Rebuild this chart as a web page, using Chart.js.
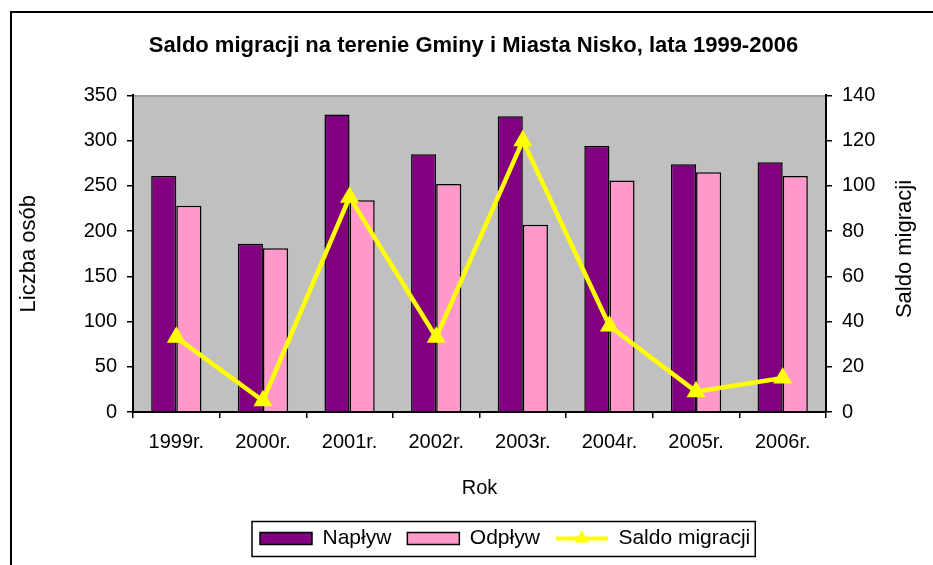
<!DOCTYPE html>
<html>
<head>
<meta charset="utf-8">
<script src="https://cdn.jsdelivr.net/npm/chart.js@4.4.1/dist/chart.umd.min.js"></script>
<style>
  html, body { margin: 0; padding: 0; background: #fff; }
  #wrap { width: 933px; height: 565px; }
</style>
</head>
<body>
<div id="wrap"><canvas id="c" width="933" height="565"></canvas></div>
<script>
/* Saldo migracji – Gmina i Miasto Nisko 1999-2006 */

const years = ["1999r.", "2000r.", "2001r.", "2002r.", "2003r.", "2004r.", "2005r.", "2006r."];
const naplyw = [261, 186, 329, 285, 327, 294, 274, 276];
const odplyw = [228, 181, 234, 252, 207, 256, 265, 261];
const saldo = [33, 5, 95, 33, 120, 38, 9, 15];

const leftMax = 350, leftStep = 50;
const rightMax = 140, rightStep = 20;

const FONT = "Arial, 'Liberation Sans', sans-serif";
Chart.defaults.font.family = FONT;
Chart.defaults.color = "#000";

// tło, ramki, legenda linii, tytuł prawej osi
const excelLook = {
  id: "excelLook",
  beforeDraw(chart) {
    const { ctx, chartArea: a } = chart;
    ctx.save();
    ctx.fillStyle = "#fff";
    ctx.fillRect(0, 0, chart.width, chart.height);
    ctx.fillStyle = "#c0c0c0";
    ctx.fillRect(a.left, a.top, a.right - a.left, a.bottom - a.top);
    ctx.strokeStyle = "#808080";
    ctx.lineWidth = 1;
    ctx.strokeRect(a.left + 0.5, a.top + 0.5, a.right - a.left - 1, a.bottom - a.top - 1);
    ctx.restore();
  },
  afterUpdate(chart) {
    // legenda przesunięta w prawo jak w Excelu
    const lg = chart.legend;
    const hb = lg.legendHitBoxes;
    if (!hb || !hb.length) return;
    const dx = 260 - hb[0].left;
    lg.left += dx; lg.right += dx;
    hb.forEach(h => { h.left += dx; });
  },
  afterDraw(chart) {
    const { ctx } = chart;
    ctx.save();
    // ramka całego wykresu
    ctx.strokeStyle = "#000";
    ctx.lineWidth = 2;
    ctx.strokeRect(11, 12, chart.width + 20, chart.height + 20);

    // ramka legendy
    const hb = chart.legend.legendHitBoxes;
    if (hb && hb.length) {
      const first = hb[0], last = hb[hb.length - 1];
      const cy = first.top + first.height / 2;
      ctx.lineWidth = 1.5;
      ctx.strokeRect(first.left - 8, cy - 17, last.left + last.width + 5 - (first.left - 8), 35);

      // symbol linii z trójkątem
      const lh = hb[2];
      const x0 = lh.left, x1 = lh.left + 52, ym = cy;
      ctx.strokeStyle = "#ffff00";
      ctx.lineWidth = 4;
      ctx.beginPath(); ctx.moveTo(x0, ym); ctx.lineTo(x1, ym); ctx.stroke();
      ctx.fillStyle = "#ffff00";
      const r = 8, xc = (x0 + x1) / 2;
      ctx.beginPath();
      ctx.moveTo(xc, ym - r);
      ctx.lineTo(xc + r * 0.866, ym + r * 0.5);
      ctx.lineTo(xc - r * 0.866, ym + r * 0.5);
      ctx.closePath(); ctx.fill();
    }

    // tytuł prawej osi (od dołu do góry)
    ctx.fillStyle = "#000";
    ctx.font = "22px " + FONT;
    ctx.textAlign = "center";
    ctx.textBaseline = "middle";
    ctx.translate(905, 249);
    ctx.rotate(-Math.PI / 2);
    ctx.fillText("Saldo migracji", 0, 0);
    ctx.restore();
  }
};

new Chart(document.getElementById("c"), {
  data: {
    labels: years,
    datasets: [
      { type: "bar", label: "Napływ", data: naplyw, yAxisID: "y", order: 1,
        backgroundColor: "#800080", borderColor: "#000", borderWidth: 1.5,
        barPercentage: 1, categoryPercentage: 0.58 },
      { type: "bar", label: "Odpływ", data: odplyw, yAxisID: "y", order: 1,
        backgroundColor: "#ff99cc", borderColor: "#000", borderWidth: 1.5,
        barPercentage: 1, categoryPercentage: 0.58 },
      { type: "line", label: "Saldo migracji", data: saldo, yAxisID: "y1", order: 0,
        borderColor: "#ffff00", backgroundColor: "#ffff00", borderWidth: 4.5,
        pointStyle: "triangle", pointRadius: 11, pointBorderWidth: 0,
        pointBackgroundColor: "#ffff00", tension: 0 },
    ]
  },
  options: {
    responsive: false,
    devicePixelRatio: 1,
    animation: false,
    layout: { padding: { left: 14, right: 0, top: 0, bottom: 6 } },
    plugins: {
      tooltip: { enabled: false },
      title: {
        display: true,
        text: "Saldo migracji na terenie Gminy i Miasta Nisko, lata 1999-2006",
        color: "#000",
        font: { size: 22, weight: "bold" },
        padding: { top: 33, bottom: 36 }
      },
      legend: {
        position: "bottom",
        labels: {
          boxWidth: 52, boxHeight: 12, padding: 16,
          font: { size: 21 }, color: "#000",
          sort: (a, b) => a.datasetIndex - b.datasetIndex,
          generateLabels(chart) {
            const items = Chart.defaults.plugins.legend.labels.generateLabels(chart);
            items.forEach(it => {
              if (it.datasetIndex === 2) {
                it.fillStyle = "rgba(0,0,0,0)";
                it.strokeStyle = "rgba(0,0,0,0)";
                it.lineWidth = 0;
              } else {
                it.strokeStyle = "#000";
                it.lineWidth = 1.5;
              }
            });
            return items;
          }
        }
      }
    },
    scales: {
      x: {
        offset: true,
        grid: { offset: true, drawOnChartArea: false, color: "#000", tickLength: 6, lineWidth: 1.5 },
        border: { color: "#000", width: 2 },
        ticks: { font: { size: 20 }, color: "#000", padding: 12 },
        title: { display: true, text: "Rok", font: { size: 20 }, color: "#000", padding: { top: 0, bottom: 12 } },
        afterFit: s => { s.height = 100; }
      },
      y: {
        position: "left",
        min: 0, max: leftMax,
        ticks: { stepSize: leftStep, font: { size: 20 }, color: "#000", padding: 10 },
        grid: { drawOnChartArea: false, color: "#000", tickLength: 6, lineWidth: 1.5 },
        border: { color: "#000", width: 2 },
        title: { display: true, text: "Liczba osób", font: { size: 22 }, color: "#000", padding: { top: 2, bottom: 0 } },
        afterFit: s => { s.width = 119; }
      },
      y1: {
        position: "right",
        min: 0, max: rightMax,
        ticks: { stepSize: rightStep, font: { size: 20 }, color: "#000", padding: 10 },
        grid: { drawOnChartArea: false, color: "#000", tickLength: 6, lineWidth: 1.5 },
        border: { color: "#000", width: 2 },
        afterFit: s => { s.width = 107; }
      }
    }
  },
  plugins: [excelLook]
});
</script>
</body>
</html>
